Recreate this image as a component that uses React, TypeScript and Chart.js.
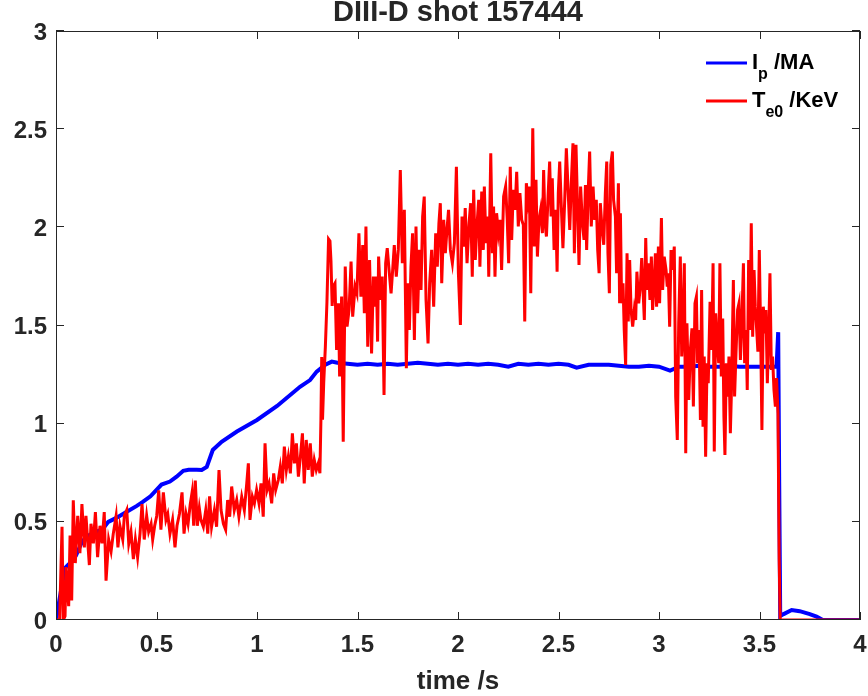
import React, { useEffect, useRef } from "react";
import { Chart, registerables } from "chart.js";

Chart.register(...registerables);

const titleText = "DIII-D shot 157444";
const xAxisTitle = "time /s";
const xTicks = [0, 0.5, 1, 1.5, 2, 2.5, 3, 3.5, 4];
const yTicks = [0, 0.5, 1, 1.5, 2, 2.5, 3];

// I_p /MA
const ipTime = [
  0, 0.01, 0.03, 0.045, 0.06, 0.08, 0.1, 0.13, 0.16, 0.2, 0.23, 0.26, 0.3, 0.35, 0.4, 0.43, 0.47,
  0.525, 0.567, 0.6, 0.633, 0.66, 0.7, 0.725, 0.75, 0.78, 0.824, 0.9, 1.0, 1.1, 1.214, 1.264, 1.297,
  1.34, 1.372, 1.4, 1.45, 1.5, 1.55, 1.6, 1.65, 1.7, 1.75, 1.8, 1.85, 1.9, 1.95, 2.0, 2.05, 2.1,
  2.15, 2.2, 2.25, 2.3, 2.35, 2.4, 2.45, 2.5, 2.55, 2.59, 2.65, 2.7, 2.75, 2.8, 2.85, 2.9, 2.95,
  3.0, 3.055, 3.1, 3.15, 3.2, 3.25, 3.3, 3.35, 3.4, 3.45, 3.5, 3.55, 3.585, 3.593, 3.598, 3.603,
  3.62, 3.66, 3.7, 3.75, 3.784, 3.815, 3.9, 4.0,
];
const ipValue = [
  0, 0.06, 0.18, 0.265, 0.28, 0.3, 0.33, 0.4, 0.43, 0.45, 0.46, 0.5, 0.52, 0.55, 0.58, 0.6, 0.63,
  0.69, 0.705, 0.73, 0.76, 0.765, 0.765, 0.764, 0.78, 0.866, 0.908, 0.96, 1.019, 1.09, 1.188, 1.222,
  1.265, 1.3, 1.316, 1.31, 1.305, 1.3, 1.305, 1.3, 1.305, 1.3, 1.305, 1.31, 1.305, 1.3, 1.305, 1.3,
  1.305, 1.3, 1.305, 1.3, 1.29, 1.305, 1.3, 1.305, 1.3, 1.305, 1.3, 1.285, 1.3, 1.3, 1.3, 1.295,
  1.29, 1.29, 1.295, 1.29, 1.27, 1.29, 1.29, 1.295, 1.29, 1.29, 1.295, 1.29, 1.29, 1.29, 1.29, 1.29,
  1.466, 0.7, 0.02, 0.03, 0.051, 0.045, 0.03, 0.017, 0, 0, 0,
];

// T_e0 /KeV
const teTime = [
  0, 0.018, 0.03, 0.036, 0.045, 0.05, 0.063, 0.07, 0.078, 0.086, 0.096, 0.108, 0.119, 0.129, 0.141,
  0.149, 0.166, 0.174, 0.186, 0.196, 0.207, 0.219, 0.229, 0.24, 0.249, 0.262, 0.274, 0.285, 0.299,
  0.308, 0.318, 0.332, 0.34, 0.352, 0.362, 0.373, 0.385, 0.395, 0.406, 0.418, 0.428, 0.439, 0.451,
  0.461, 0.473, 0.481, 0.491, 0.501, 0.511, 0.522, 0.534, 0.547, 0.556, 0.567, 0.58, 0.592, 0.602,
  0.614, 0.627, 0.637, 0.647, 0.657, 0.668, 0.677, 0.685, 0.693, 0.703, 0.713, 0.721,
  0.733, 0.745, 0.755, 0.764, 0.774, 0.788, 0.799, 0.811, 0.821, 0.833, 0.844, 0.854, 0.864, 0.874,
  0.887, 0.899, 0.91, 0.924, 0.937, 0.949, 0.957, 0.965, 0.977, 0.987, 0.998, 1.01, 1.02, 1.031,
  1.04, 1.05, 1.06, 1.073, 1.083, 1.093, 1.106, 1.116, 1.126, 1.136, 1.146, 1.156, 1.166, 1.176,
  1.186, 1.196, 1.206, 1.216, 1.226, 1.235, 1.245, 1.255, 1.265, 1.275, 1.285, 1.295, 1.305, 1.313,
  1.318, 1.322, 1.326, 1.332, 1.34, 1.348, 1.356, 1.363, 1.368, 1.374, 1.38,
  1.388, 1.396, 1.405, 1.411, 1.421, 1.429, 1.439, 1.448, 1.458, 1.468, 1.476, 1.488, 1.497, 1.507,
  1.517, 1.526, 1.534, 1.542, 1.551, 1.56, 1.57, 1.579, 1.587, 1.594, 1.6, 1.605, 1.614, 1.623,
  1.632, 1.64, 1.648, 1.657, 1.667, 1.675, 1.683, 1.693, 1.703, 1.713, 1.723, 1.733, 1.743, 1.75,
  1.758, 1.766, 1.774, 1.783, 1.791, 1.799, 1.808, 1.816, 1.824, 1.832, 1.841, 1.851, 1.859, 1.869,
  1.879, 1.889, 1.897, 1.905, 1.912, 1.919, 1.929, 1.937, 1.945, 1.953, 1.962, 1.972, 1.982, 1.992,
  2.002, 2.012, 2.02, 2.028, 2.036, 2.045, 2.055, 2.063, 2.071, 2.078, 2.086, 2.094, 2.103,
  2.109, 2.118, 2.126, 2.131, 2.139, 2.148, 2.153, 2.163, 2.171, 2.177, 2.184, 2.192, 2.201, 2.209,
  2.217, 2.227, 2.237, 2.245, 2.252, 2.26, 2.267, 2.275, 2.284, 2.292, 2.3, 2.308, 2.317, 2.325,
  2.332, 2.34, 2.348, 2.355, 2.362, 2.372, 2.38, 2.388, 2.395, 2.403, 2.411, 2.42, 2.426, 2.433,
  2.44, 2.448, 2.456, 2.463, 2.469, 2.478, 2.486, 2.493, 2.499, 2.506, 2.514, 2.522, 2.531, 2.539,
  2.547, 2.556, 2.564, 2.572, 2.579, 2.587, 2.595, 2.602, 2.61, 2.619, 2.627, 2.634, 2.64, 2.648,
  2.655, 2.663, 2.672, 2.68, 2.688, 2.695, 2.702, 2.708, 2.716, 2.725, 2.733, 2.74, 2.746, 2.753,
  2.76, 2.768, 2.774, 2.783, 2.789, 2.798, 2.804,
  2.808, 2.814, 2.821, 2.827, 2.834, 2.841, 2.847, 2.854, 2.861, 2.869, 2.877, 2.884, 2.89, 2.899,
  2.907, 2.914, 2.922, 2.927, 2.934, 2.94, 2.947, 2.955, 2.962, 2.968, 2.975, 2.982, 2.988, 2.997,
  3.003, 3.012, 3.018, 3.026, 3.035, 3.041, 3.046, 3.053, 3.06, 3.068, 3.076, 3.083, 3.091, 3.098,
  3.106, 3.113, 3.119, 3.126, 3.133, 3.139, 3.148, 3.156, 3.164, 3.171, 3.179, 3.186, 3.192, 3.199,
  3.206, 3.212, 3.219, 3.225, 3.232, 3.239, 3.245, 3.254, 3.262, 3.269, 3.275, 3.282, 3.288, 3.297,
  3.303, 3.31, 3.317, 3.323, 3.328, 3.335, 3.342, 3.348, 3.355, 3.361, 3.37, 3.376, 3.383, 3.391,
  3.398, 3.405, 3.411, 3.42, 3.426, 3.433, 3.439, 3.446, 3.453, 3.459, 3.466, 3.473, 3.479, 3.486,
  3.492, 3.499, 3.506, 3.512, 3.519, 3.526, 3.532, 3.539, 3.546, 3.552, 3.559, 3.565, 3.572, 3.579,
  3.585, 3.592, 3.598, 3.603, 3.7, 3.8, 3.9, 4.0,
];
const teValue = [
  0, 0, 0.475, 0, 0.02, 0.27, 0.07, 0.43, 0.1, 0.61, 0.29, 0.53, 0.34, 0.59, 0.37,
  0.53, 0.28, 0.49, 0.39, 0.55, 0.32, 0.48, 0.39, 0.55, 0.2, 0.41, 0.35, 0.44, 0.53,
  0.37, 0.48, 0.41, 0.53, 0.56, 0.39, 0.45, 0.31, 0.41, 0.32, 0.44, 0.59, 0.41, 0.53,
  0.45, 0.49, 0.41, 0.48, 0.53, 0.66, 0.46, 0.65, 0.51, 0.54, 0.44, 0.51, 0.37, 0.48,
  0.54, 0.65, 0.44, 0.54, 0.49, 0.59, 0.65, 0.48, 0.71, 0.48, 0.57, 0.51,
  0.475, 0.56, 0.44, 0.63, 0.475, 0.56, 0.475, 0.764, 0.56, 0.49, 0.46, 0.611, 0.526, 0.68,
  0.56, 0.611, 0.526, 0.628, 0.56, 0.696, 0.798, 0.51, 0.628, 0.594, 0.662, 0.594, 0.696, 0.526,
  0.9, 0.662, 0.696, 0.594, 0.747, 0.662, 0.713, 0.781, 0.696, 0.883, 0.764, 0.832, 0.747, 0.951,
  0.798, 0.9, 0.73, 0.832, 0.951, 0.696, 0.917, 0.764, 0.9, 0.73, 0.815, 0.764, 0.798, 0.747,
  1.02, 1.34, 1.02, 1.21, 1.39, 1.62, 1.94, 1.93, 1.83, 1.6, 1.7,
  1.715, 1.375, 1.613, 1.24, 1.647, 0.908, 1.8, 1.494, 1.579, 1.826, 1.545, 1.698, 1.664, 1.97,
  1.647, 1.91, 1.562, 2.004, 1.392, 1.834, 1.358, 1.749, 1.596, 1.749, 1.418, 1.851, 1.63, 1.749,
  1.146, 1.817, 1.894, 1.783, 1.664, 1.783, 1.91, 1.749, 1.885, 2.292, 1.817, 2.089, 1.282, 1.715,
  1.477, 1.8, 1.97, 1.426, 2.004, 1.562, 1.885, 1.681, 2.055, 2.157, 1.63, 1.409, 1.715, 1.885,
  1.596, 1.97, 1.8, 2.021, 2.123, 1.715, 2.038, 1.868, 1.987, 2.089, 1.885, 1.817, 1.919, 2.309,
  1.766, 1.503, 2.055, 1.902, 2.098, 1.817, 2.021, 2.123, 1.749, 2.191, 1.834, 2.004, 2.14,
  1.8, 2.182, 1.885, 2.208, 1.919, 2.055, 1.749, 2.377, 1.868, 2.106, 1.749, 2.072, 1.97, 2.038,
  1.783, 2.157, 2.208, 2.038, 1.817, 2.309, 1.936, 2.191, 2.089, 2.283, 2.004, 2.174, 2.038, 2.013,
  1.52, 2.225, 2.14, 2.208, 1.664, 2.505, 1.902, 2.242, 1.851, 2.038, 2.089, 1.97, 2.292, 2.021,
  1.953, 2.157, 2.335, 2.055, 2.25, 1.885, 2.089, 1.774, 2.174, 2.335, 2.106, 1.894, 2.14, 2.403,
  2.208, 1.987, 2.233, 2.428, 1.868, 2.42, 2.089, 1.808, 2.208, 2.021, 1.936, 2.216, 1.885, 2.191,
  2.386, 2.004, 2.208, 2.038, 2.14, 1.885, 1.766, 2.123, 2.004, 1.911, 2.174, 2.335, 1.868, 1.664,
  2.318, 2.386, 2.14, 2.055, 1.766, 2.225, 1.613,
  2.072, 1.613, 1.715, 1.477, 1.299, 1.868, 1.52, 1.834, 1.579, 1.494, 1.579, 1.528, 1.774, 1.613,
  1.698, 1.843, 1.647, 1.528, 1.945, 1.681, 1.817, 1.63, 1.851, 1.579, 1.698, 1.868, 1.596, 1.902,
  1.613, 2.047, 1.681, 1.851, 1.783, 1.698, 1.766, 1.494, 1.885, 1.783, 1.902, 1.138, 0.917, 1.511,
  1.851, 1.342, 1.477, 1.817, 0.849, 1.511, 1.121, 1.376, 1.486, 1.087, 1.613, 1.647, 1.308, 1.477,
  1.019, 1.681, 0.985, 1.342, 0.832, 1.308, 1.206, 1.621, 1.376, 1.817, 0.858, 1.562, 1.443, 1.308,
  1.817, 1.24, 1.536, 1.036, 0.841, 1.308, 1.138, 1.342, 0.951, 1.189, 1.732, 1.138, 1.359, 1.579,
  1.613, 1.325, 1.477, 1.817, 1.308, 1.477, 1.172, 1.834, 1.477, 2.021, 1.443, 1.783, 1.596, 1.477,
  1.367, 1.885, 1.443, 0.968, 1.596, 1.46, 1.579, 1.206, 1.46, 1.766, 1.274, 1.342, 1.172, 1.087,
  1.232, 1.05, 0.3, 0, 0, 0, 0, 0,
];

const legendMain = ["I", "T"];
const legendSub = ["p", "e0"];
const legendRest = [" /MA", " /KeV"];
const seriesColors = ["#0000ff", "#ff0000"];

const AX = "#262626";
const FONT = "'Liberation Sans', Arial, Helvetica, sans-serif";

const fmt = (v: number) => String(v);

const frameAndLegend = {
  id: "frameAndLegend",
  afterDraw(chart: any) {
    const { ctx, chartArea, scales } = chart;
    const { left, right, top, bottom } = chartArea;
    ctx.save();
    // box
    ctx.strokeStyle = AX;
    ctx.lineWidth = 1;
    ctx.strokeRect(left + 0.5, top + 0.5, right - left - 1, bottom - top - 1);
    // ticks inward
    const tl = 8;
    ctx.beginPath();
    xTicks.forEach((v) => {
      const px = Math.round(scales.x.getPixelForValue(v)) + 0.5;
      ctx.moveTo(px, bottom);
      ctx.lineTo(px, bottom - tl);
      ctx.moveTo(px, top);
      ctx.lineTo(px, top + tl);
    });
    yTicks.forEach((v) => {
      const py = Math.round(scales.y.getPixelForValue(v)) - 0.5;
      ctx.moveTo(left, py);
      ctx.lineTo(left + tl, py);
      ctx.moveTo(right, py);
      ctx.lineTo(right - tl, py);
    });
    ctx.stroke();

    // tick labels
    ctx.fillStyle = AX;
    ctx.font = `bold 24px ${FONT}`;
    ctx.textBaseline = "alphabetic";
    ctx.textAlign = "center";
    xTicks.forEach((v) => {
      ctx.fillText(fmt(v), scales.x.getPixelForValue(v), bottom + 32);
    });
    ctx.textAlign = "right";
    yTicks.forEach((v) => {
      ctx.fillText(fmt(v), left - 9, scales.y.getPixelForValue(v) + 8.5);
    });

    // axis title
    ctx.textAlign = "center";
    ctx.font = `bold 26px ${FONT}`;
    ctx.fillText(xAxisTitle, (left + right) / 2, 689);

    // title
    ctx.font = `bold 29px ${FONT}`;
    ctx.fillText(titleText, (left + right) / 2, 21);

    // legend
    const lx0 = 706, lx1 = 747;
    const rows = [63, 101];
    ctx.textAlign = "left";
    rows.forEach((ly, i) => {
      ctx.strokeStyle = seriesColors[i];
      ctx.lineWidth = 3;
      ctx.beginPath();
      ctx.moveTo(lx0, ly);
      ctx.lineTo(lx1, ly);
      ctx.stroke();
      const base = ly + 6;
      let x = 752;
      ctx.fillStyle = "#000";
      ctx.font = `bold 22px ${FONT}`;
      ctx.fillText(legendMain[i], x, base);
      x += ctx.measureText(legendMain[i]).width;
      ctx.font = `bold 16px ${FONT}`;
      ctx.fillText(legendSub[i], x, base + 10);
      x += ctx.measureText(legendSub[i]).width;
      ctx.font = `bold 22px ${FONT}`;
      ctx.fillText(legendRest[i], x, base);
    });
    ctx.restore();
  },
};

export default function App() {
  const ref = useRef<HTMLCanvasElement | null>(null);
  useEffect(() => {
    if (!ref.current) return;
    const ipData = ipTime.map((t, i) => ({ x: t, y: ipValue[i] }));
    const teData = teTime.map((t, i) => ({ x: t, y: teValue[i] }));
    const chart = new Chart(ref.current, {
      type: "line",
      data: {
        datasets: [
          {
            label: "I_p /MA",
            data: ipData,
            borderColor: seriesColors[0],
            borderWidth: 4,
            pointRadius: 0,
            tension: 0,
            order: 1,
          },
          {
            label: "T_e0 /KeV",
            data: teData,
            borderColor: seriesColors[1],
            borderWidth: 3,
            pointRadius: 0,
            tension: 0,
            order: 0,
          },
        ],
      },
      options: {
        animation: false,
        responsive: false,
        devicePixelRatio: 1,
        layout: { padding: { top: 31, right: 8, left: 0, bottom: 0 } },
        plugins: {
          legend: { display: false },
          tooltip: { enabled: false },
          title: { display: false },
        },
        scales: {
          x: {
            type: "linear",
            min: 0,
            max: 4,
            afterBuildTicks: (s: any) => {
              s.ticks = xTicks.map((v) => ({ value: v }));
            },
            afterFit: (s: any) => {
              s.height = 76;
            },
            grid: { display: false, drawTicks: false, tickLength: 0 },
            border: { display: false },
            ticks: { display: false },
          },
          y: {
            type: "linear",
            min: 0,
            max: 3,
            afterBuildTicks: (s: any) => {
              s.ticks = yTicks.map((v) => ({ value: v }));
            },
            afterFit: (s: any) => {
              s.width = 56;
            },
            grid: { display: false, drawTicks: false, tickLength: 0 },
            border: { display: false },
            ticks: { display: false },
          },
        },
      },
      plugins: [frameAndLegend],
    });
    return () => chart.destroy();
  }, []);
  return (
    <canvas
      ref={ref}
      width={868}
      height={696}
      style={{ position: "absolute", left: 0, top: 0, width: 868, height: 696 }}
    />
  );
}
